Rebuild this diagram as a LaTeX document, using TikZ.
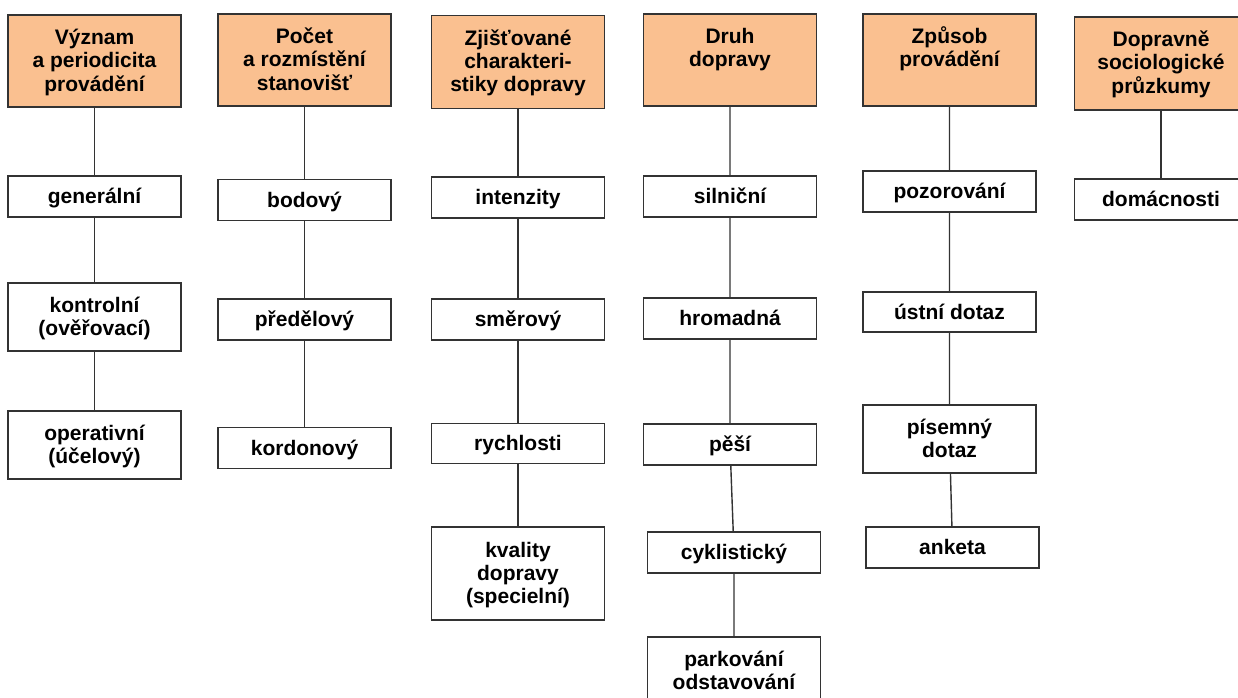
\documentclass[tikz,border=0pt]{standalone}
\usepackage{fontspec}
\setmainfont{Liberation Sans}
\definecolor{hdrfill}{HTML}{FAC090}
\definecolor{linec}{HTML}{333333}
\newcommand{\htxt}[2][92pt]{\parbox[c][#1][t]{170pt}{\centering\rule{0pt}{29.5pt}#2}}
\newcommand{\ctxt}[1]{\raisebox{-2.5pt}[\height][\depth]{\begin{tabular}{@{}c@{}}#1\end{tabular}}}
\tikzset{
  basebox/.style={draw=linec, line width=1.3pt, inner sep=0pt, minimum width=173pt,
    font=\fontsize{21}{23.3}\selectfont\bfseries},
  hdr/.style={basebox, fill=hdrfill},
  child/.style={basebox, fill=white, minimum height=41pt},
  conn/.style={draw=linec, line width=1.4pt}
}
\begin{document}
\begin{tikzpicture}[x=1pt,y=-1pt]
\useasboundingbox (0,0) rectangle (1238,697);
\clip (0,0) rectangle (1238,697);
\fill[white] (0,0) rectangle (1238,697);
% column 1
\node[hdr] (h1) at (94.5,61) {\htxt{Význam\\a periodicita\\provádění}};
\node[child] (c11) at (94.5,196.5) {\ctxt{generální}};
\node[child, minimum height=68pt] (c12) at (94.5,317) {\ctxt{kontrolní\\(ověřovací)}};
\node[child, minimum height=68pt] (c13) at (94.5,445) {\ctxt{operativní\\(účelový)}};
% column 2
\node[hdr] (h2) at (304.5,60) {\htxt{Počet\\a rozmístění\\stanovišť}};
\node[child] (c21) at (304.5,200) {\ctxt{bodový}};
\node[child] (c22) at (304.5,319.5) {\ctxt{předělový}};
\node[child] (c23) at (304.5,448) {\ctxt{kordonový}};
% column 3
\node[hdr] (h3) at (518,62) {\htxt[93pt]{Zjišťované\\charakteri-\\stiky dopravy}};
\node[child] (c31) at (518,197.5) {\ctxt{intenzity}};
\node[child] (c32) at (518,319.5) {\ctxt{směrový}};
\node[child, minimum height=40pt] (c33) at (518,443.5) {\ctxt{rychlosti}};
\node[child, minimum height=93pt] (c34) at (518,573.5) {\ctxt{kvality\\dopravy\\(specielní)}};
% column 4
\node[hdr] (h4) at (730,60) {\htxt{Druh\\dopravy}};
\node[child] (c41) at (730,196.5) {\ctxt{silniční}};
\node[child] (c42) at (730,318.5) {\ctxt{hromadná}};
\node[child] (c43) at (730,444.5) {\ctxt{pěší}};
\node[child] (c44) at (734,552.5) {\ctxt{cyklistický}};
\node[child, minimum height=68pt] (c45) at (734,671) {\ctxt{parkování\\odstavování}};
% column 5
\node[hdr] (h5) at (949.5,60) {\htxt{Způsob\\provádění}};
\node[child] (c51) at (949.5,191.5) {\ctxt{pozorování}};
\node[child, minimum height=40pt] (c52) at (949.5,312) {\ctxt{ústní dotaz}};
\node[child, minimum height=68pt] (c53) at (949.5,439) {\ctxt{písemný\\dotaz}};
\node[child] (c54) at (952.5,547.5) {\ctxt{anketa}};
% column 6
\node[hdr] (h6) at (1161,63.5) {\htxt[93pt]{Dopravně\\sociologické\\průzkumy}};
\node[child] (c61) at (1161,199.5) {\ctxt{domácnosti}};
% connectors
\draw[conn] (h1) -- (c11) (c11) -- (c12) (c12) -- (c13);
\draw[conn] (h2) -- (c21) (c21) -- (c22) (c22) -- (c23);
\draw[conn] (h3) -- (c31) (c31) -- (c32) (c32) -- (c33) (c33) -- (c34);
\draw[conn] (h4) -- (c41) (c41) -- (c42) (c42) -- (c43) (c43) -- (c44) (c44) -- (c45);
\draw[conn] (h5) -- (c51) (c51) -- (c52) (c52) -- (c53) (c53) -- (c54);
\draw[conn] (h6) -- (c61);
\end{tikzpicture}
\end{document}
